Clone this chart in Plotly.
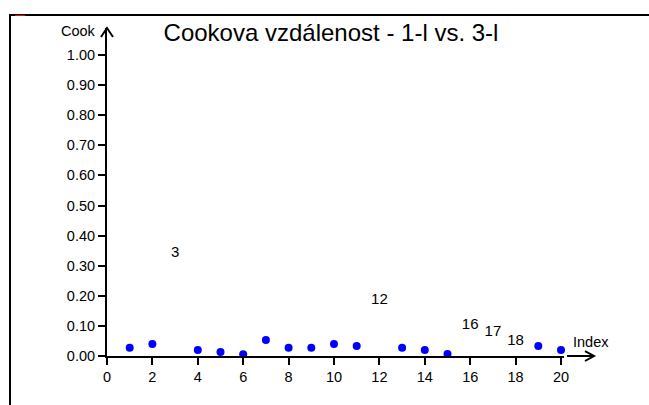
import plotly.graph_objects as go

# Cook's distance per observation index
index_pts = [1, 2, 4, 5, 6, 7, 8, 9, 10, 11, 13, 14, 15, 19, 20]
cook_pts = [0.027, 0.040, 0.020, 0.013, 0.006, 0.053, 0.027, 0.027,
            0.040, 0.033, 0.027, 0.020, 0.007, 0.033, 0.020]

# influential observations, shown by their index number
index_lbl = [3, 12, 16, 17, 18]
cook_lbl = [0.342, 0.186, 0.103, 0.080, 0.050]

x_ticks = list(range(0, 21, 2))
y_ticks = [i / 10 for i in range(0, 11)]

W, H = 649, 405
X0_PX, Y0_PX = 107, 356          # pixel position of the origin
PX_X, PX_Y = 22.7, 301.0         # pixels per data unit
X_MAX = 20.13
Y_TOP_PX = 28
Y_MAX = (Y0_PX - Y_TOP_PX) / PX_Y

font = "Liberation Sans, Arial, sans-serif"


def px(xp, yp):
    """Convert a pixel position to paper coordinates."""
    return xp / W, 1 - yp / H


def path_px(points):
    parts = []
    for i, (xp, yp) in enumerate(points):
        fx, fy = px(xp, yp)
        parts.append(("M" if i == 0 else "L") + f" {fx:.5f} {fy:.5f}")
    return " ".join(parts)


fig = go.Figure()
fig.add_trace(go.Scatter(
    x=index_pts, y=cook_pts, mode="markers",
    marker=dict(color="#0000FF", size=8, line=dict(width=0)),
    cliponaxis=False, showlegend=False, hoverinfo="x+y",
))
fig.add_trace(go.Scatter(
    x=index_lbl, y=cook_lbl, mode="text",
    text=[str(i) for i in index_lbl], textposition="middle center",
    textfont=dict(family=font, size=15, color="black"),
    cliponaxis=False, showlegend=False,
))

axis_common = dict(
    showline=True, linecolor="black", linewidth=2,
    ticks="outside", ticklen=7, tickwidth=2, tickcolor="black",
    showgrid=False, zeroline=False, automargin=False,
    tickfont=dict(family=font, size=14.5, color="black"),
    fixedrange=True,
)

fig.update_layout(
    template="none",
    width=W, height=H, autosize=False,
    margin=dict(l=0, r=0, t=0, b=0, pad=0, autoexpand=False),
    paper_bgcolor="white", plot_bgcolor="white",
    xaxis=dict(domain=[X0_PX / W, (X0_PX + X_MAX * PX_X) / W],
               range=[0, X_MAX], tickvals=x_ticks,
               ticktext=[str(v) for v in x_ticks], **axis_common),
    yaxis=dict(domain=[(H - Y0_PX) / H, (H - Y_TOP_PX) / H],
               range=[0, Y_MAX], tickvals=y_ticks,
               ticktext=[f"{v:.2f}" for v in y_ticks], **axis_common),
    title=dict(text="Cookova vzdálenost - 1-l vs. 3-l",
               font=dict(family=font, size=24, color="black"),
               x=331 / W, xanchor="center", xref="paper",
               y=1 - 33 / H, yanchor="middle", yref="paper"),
)

# axis names
fig.add_annotation(text="Cook", x=98 / W, y=1 - 31 / H, xref="paper", yref="paper",
                   xanchor="right", yanchor="middle", showarrow=False,
                   font=dict(family=font, size=14.5, color="black"))
fig.add_annotation(text="Index", x=571 / W, y=1 - 342 / H, xref="paper", yref="paper",
                   xanchor="left", yanchor="middle", showarrow=False,
                   font=dict(family=font, size=14.5, color="black"))

arrow_line = dict(color="black", width=2)
# arrow at the end of the x axis
fig.add_shape(type="path", xref="paper", yref="paper",
              path=path_px([(567, Y0_PX), (594, Y0_PX)]), line=arrow_line)
fig.add_shape(type="path", xref="paper", yref="paper",
              path=path_px([(585, Y0_PX - 5), (594, Y0_PX), (585, Y0_PX + 5)]),
              line=arrow_line)
# arrow at the top of the y axis
fig.add_shape(type="path", xref="paper", yref="paper",
              path=path_px([(X0_PX - 6, Y_TOP_PX + 9), (X0_PX, Y_TOP_PX),
                            (X0_PX + 6, Y_TOP_PX + 9)]),
              line=arrow_line)

# outer frame (top and left edges) with the small red mark
fig.add_shape(type="path", xref="paper", yref="paper",
              path=path_px([(W, 15), (10, 15), (10, H)]),
              line=dict(color="black", width=2))
fig.add_shape(type="path", xref="paper", yref="paper",
              path=path_px([(15, 15.5), (25, 15.5)]),
              line=dict(color="#FF0000", width=1))

fig.write_html("out.html")
